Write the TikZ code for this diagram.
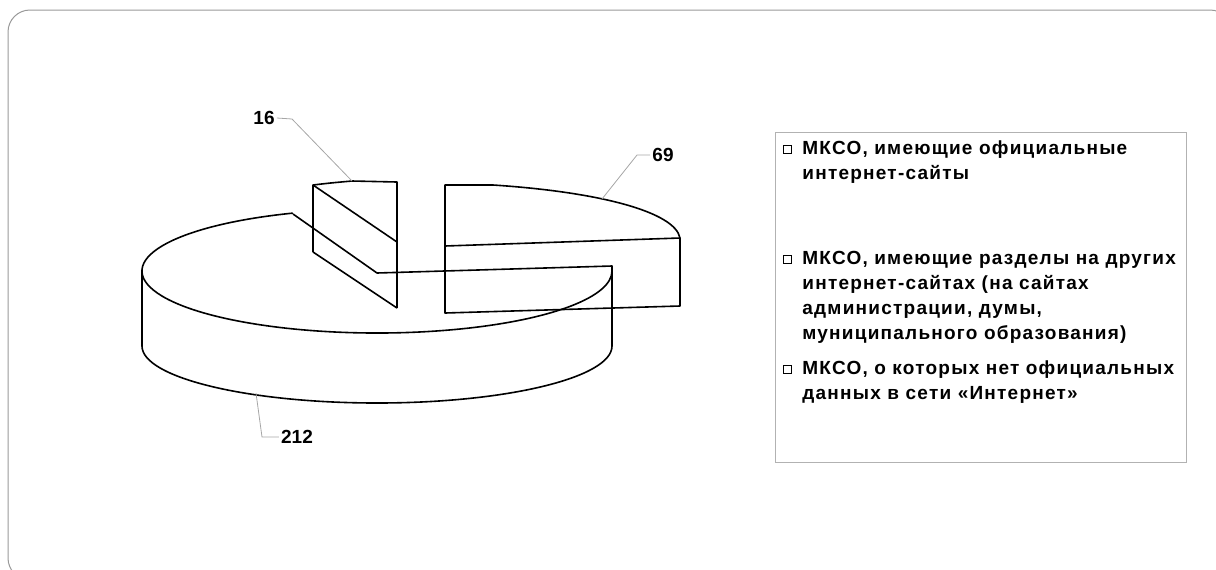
\documentclass[tikz,border=0pt]{standalone}
\usepackage{fontspec}
\setmainfont{Liberation Sans}
\newfontfamily\keyfont[LetterSpace=6.5]{Liberation Sans}
\usetikzlibrary{calc}
\tikzstyle{chart}=[x=0.5pt, y=-0.5pt, font=\bfseries\fontsize{9.5}{12.5}\selectfont]
\tikzstyle{frame}=[draw=black!40, line width=0.5pt, rounded corners=11pt]
\tikzstyle{slice}=[draw=black, line width=0.8pt, line join=round]
\tikzstyle{leader}=[-, draw=black!35, line width=0.4pt]
\tikzstyle{val}=[inner sep=1pt]
\tikzstyle{keybox}=[draw=black!30, line width=0.5pt]
\tikzstyle{key}=[rectangle, draw, line width=0.5pt, minimum size=4pt, inner sep=0pt]
\tikzstyle{keytext}=[inner sep=0pt, align=left, anchor=north west, font=\keyfont\bfseries\fontsize{9.5}{12.5}\selectfont]
\newcommand{\pieX}{377}
\newcommand{\pieTopY}{271}
\newcommand{\pieBotY}{346}
\newcommand{\pieRX}{235}
\newcommand{\pieRY}{62}
\newcommand{\pieBotRY}{57}
\newcommand{\keyX}{787}
\newcommand{\keyTX}{802}
\newcommand{\firstline}{\rule{0pt}{7pt}}

\begin{document}
\begin{tikzpicture}[chart]
	\useasboundingbox (0,0) rectangle (1216,569);
	\clip (0,0) rectangle (1216,569);
	\draw[frame] (8,10) rectangle (1232,580);

	%% slice 212
	\draw[slice] ($(\pieX,\pieTopY)+(249:235 and 62)$) arc[start angle=249, end angle=0, x radius=\pieRX, y radius=\pieRY];
	\draw[slice] (142,\pieBotY) arc[start angle=180, end angle=0, x radius=\pieRX, y radius=\pieBotRY];
	\draw[slice] (142,\pieTopY) -- (142,\pieBotY);
	\draw[slice] (612,\pieTopY) -- (612,\pieBotY);
	\draw[slice] (293,214) -- (377,273) -- (612,266) -- (612,\pieTopY);
	%% slice 16
	\draw[slice] (313,185) .. controls (330,183) .. (352,181) -- (397,182) -- (397,308);
	\draw[slice] (313,252) -- (313,185) -- (397,242);
	\draw[slice] (313,252) -- (397,308);
	%% slice 69
	\draw[slice] (445,246) -- (680,238) -- (680,306) -- (445,313) -- (445,185) -- (493,185) .. controls (600,192) and (675,212) .. (680,238);

	%% values
	\draw (264,118) node[val] (v16) {16};
	\draw (663,155) node[val] (v69) {69};
	\draw (297,437) node[val] (v212) {212};
	\coordinate (p16) at (352,181);
	\coordinate (b16) at (292,119);
	\coordinate (p69) at (602,199);
	\coordinate (b69) at (637,155);
	\coordinate (p212) at (256,393);
	\coordinate (b212) at (262,437);
	\draw[leader] (v16.east) -- (b16) -- (p16);
	\draw[leader] (v69.west) -- (b69) -- (p69);
	\draw[leader] (v212.west) -- (b212) -- (p212);

	%% legend
	\draw[keybox] (775,132) rectangle (1186,462);
	\draw (\keyX,149) node[key] (k1) {};
	\draw (\keyX,259) node[key] (k2) {};
	\draw (\keyX,369) node[key] (k3) {};
	\draw (\keyTX,140.5) node[keytext] (t1) {\firstline МКСО, имеющие официальные\\интернет-сайты};
	\draw (\keyTX,250.5) node[keytext] (t2) {\firstline МКСО, имеющие разделы на других\\интернет-сайтах (на сайтах\\администрации, думы,\\муниципального образования)};
	\draw (\keyTX,360.5) node[keytext] (t3) {\firstline МКСО, о которых нет официальных\\данных в сети «Интернет»};
\end{tikzpicture}
\end{document}
